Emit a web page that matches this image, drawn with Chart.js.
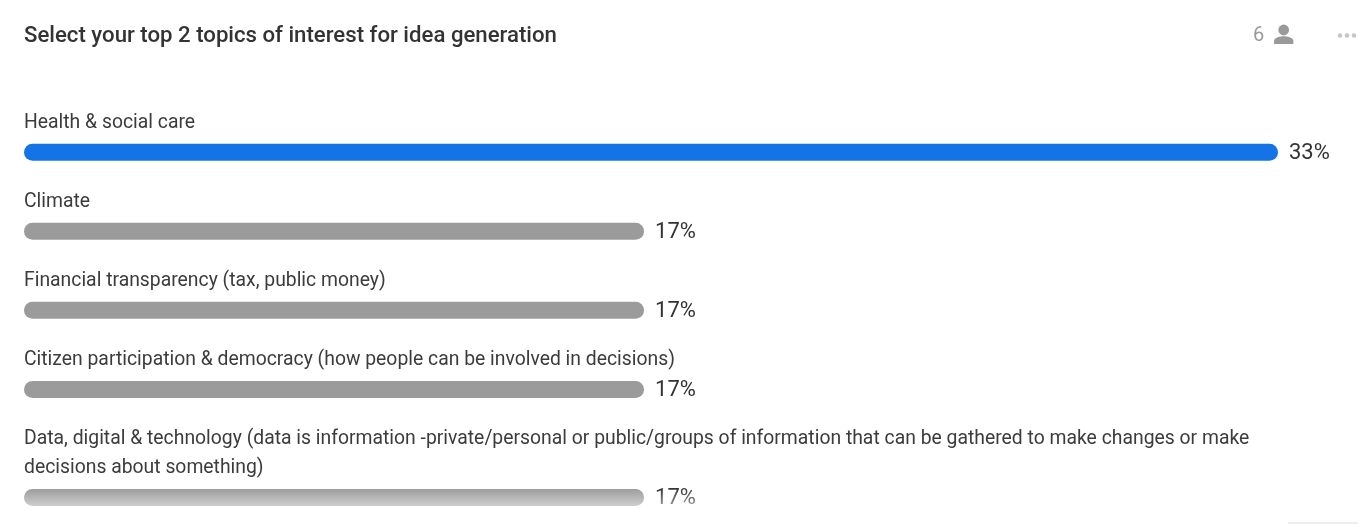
<!DOCTYPE html>
<html>
<head>
<meta charset="utf-8">
<title>Poll results</title>
<script src="https://cdn.jsdelivr.net/npm/chart.js@4"></script>
<style>
  html, body { margin: 0; padding: 0; background: #fff; overflow: hidden; }
  #wrap { position: relative; width: 1371px; height: 524px; }
  #count { position: absolute; left: 1253px; top: 22px; font: 20px/25px Roboto, sans-serif; color: #9a9a9a; }
  #person, #menu { position: absolute; }
  #person { left: 1272px; top: 22px; }
  #menu { left: 1336px; top: 30px; }
  /* list fades out towards the bottom of the card */
  #fade { position: absolute; left: 0; top: 488px; width: 1371px; height: 22px;
          background: linear-gradient(rgba(255,255,255,0), rgba(255,255,255,0.62)); pointer-events: none; }
  #edge { position: absolute; left: 1288px; top: 522px; width: 70px; height: 2px; background: #eeeeee; }
</style>
</head>
<body>
<div id="wrap">
  <canvas id="pollChart" width="1371" height="524"></canvas>
  <div id="count">6</div>
  <svg id="person" width="24" height="24" viewBox="0 0 24 24">
    <circle cx="11.7" cy="8" r="5.4" fill="#9a9a9a"/>
    <path d="M2 22v-3c0-3.4 6.4-4.8 9.7-4.8s9.7 1.4 9.7 4.8v3z" fill="#9a9a9a"/>
  </svg>
  <svg id="menu" width="22" height="11" viewBox="0 0 22 11">
    <circle cx="4" cy="5.5" r="2.3" fill="#c6c6c6"/>
    <circle cx="11" cy="5.5" r="2.3" fill="#c6c6c6"/>
    <circle cx="18" cy="5.5" r="2.3" fill="#c6c6c6"/>
  </svg>
  <div id="fade"></div>
  <div id="edge"></div>
</div>
<script>
const chartTitle = 'Select your top 2 topics of interest for idea generation';
const topics = [
  ['Health & social care'],
  ['Climate'],
  ['Financial transparency (tax, public money)'],
  ['Citizen participation & democracy (how people can be involved in decisions)'],
  ['Data, digital & technology (data is information -private/personal or public/groups of information that can be gathered to make changes or make',
   'decisions about something)']
];
const shares = [33, 17, 17, 17, 17];
const barColors = ['#1473e6', '#9b9b9b', '#9b9b9b', '#9b9b9b', '#9b9b9b'];

const LINE_HEIGHT = 29;
const AXIS_START = 1.35;

// category scale whose rows grow when the label above a bar wraps
class WrappedRowScale extends Chart.CategoryScale {
  static id = 'wrappedRows';
  static defaults = Chart.CategoryScale.defaults;
  getPixelForValue(value, index) {
    const base = super.getPixelForValue(value, index);
    let extra = 0;
    for (let i = 0; i <= value; i++) extra += topics[i].length - 1;
    return base + extra * LINE_HEIGHT;
  }
}
Chart.register(WrappedRowScale);

// topic text above each bar, percentage after its end
const rowText = {
  id: 'rowText',
  afterDatasetsDraw(chart) {
    const { ctx } = chart;
    const bars = chart.getDatasetMeta(0).data;
    ctx.save();
    ctx.textAlign = 'left';
    ctx.textBaseline = 'middle';
    bars.forEach((bar, i) => {
      const lines = topics[i];
      ctx.font = '19.35px Roboto, sans-serif';
      ctx.fillStyle = '#3c3c3c';
      lines.forEach((line, n) => {
        ctx.fillText(line, chart.chartArea.left, bar.y - 29 - (lines.length - 1 - n) * LINE_HEIGHT);
      });
      ctx.font = '22px Roboto, sans-serif';
      ctx.fillStyle = '#333333';
      ctx.fillText(shares[i] + '%', bar.x + 11, bar.y + 1);
    });
    ctx.restore();
  }
};

new Chart(document.getElementById('pollChart'), {
  type: 'bar',
  plugins: [rowText],
  data: {
    labels: topics.map(t => t.join(' ')),
    datasets: [{
      data: shares,
      base: AXIS_START,
      backgroundColor: barColors,
      barThickness: 17,
      borderRadius: 9,
      borderSkipped: false,
      inflateAmount: 0
    }]
  },
  options: {
    indexAxis: 'y',
    responsive: false,
    animation: false,
    layout: { padding: { left: 24, right: 93, top: 0, bottom: 16 } },
    scales: {
      x: { display: false, min: AXIS_START, max: 33 },
      y: { type: 'wrappedRows', display: false }
    },
    plugins: {
      legend: { display: false },
      tooltip: { enabled: false },
      title: {
        display: true,
        text: chartTitle,
        align: 'start',
        color: '#333333',
        font: { family: 'Roboto, sans-serif', size: 22.2, weight: '500', lineHeight: 1.2 },
        padding: { top: 23, bottom: 63 }
      }
    }
  }
});
</script>
</body>
</html>
